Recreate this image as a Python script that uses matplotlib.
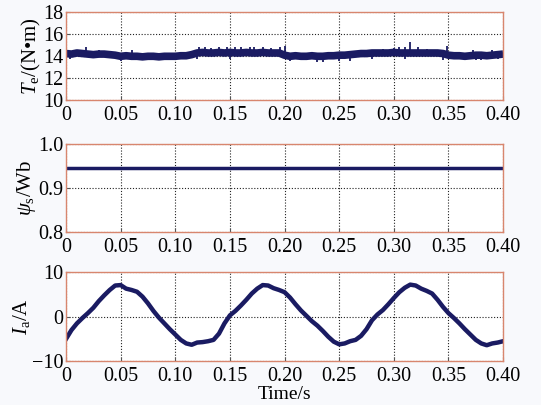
import numpy as np
import matplotlib
matplotlib.use("Agg")
import matplotlib.pyplot as plt

plt.rcParams['font.family'] = ['Liberation Serif', 'DejaVu Serif']
plt.rcParams['mathtext.fontset'] = 'custom'
plt.rcParams['mathtext.rm'] = 'Liberation Serif'
plt.rcParams['mathtext.it'] = 'Liberation Serif:italic'

# --- data ---
t_samples = np.round(np.arange(0, 81) * 0.005, 3)

te_values = [
    14.25, 14.2, 14.3, 14.25, 14.2, 14.15, 14.2, 14.2, 14.15, 14.1,
    14.0, 14.05, 14.0, 14.0, 13.95, 14.0, 14.0, 13.95, 14.0, 14.0, 14.0, 14.05, 14.05, 14.15,
    14.3, 14.35, 14.3, 14.3, 14.35, 14.3, 14.35, 14.3, 14.3, 14.35, 14.3, 14.3, 14.35, 14.3, 14.3, 14.3,
    14.1, 14.0, 14.05, 14.0, 14.0, 14.05, 14.0, 14.0, 14.05, 14.05, 14.1, 14.1, 14.15, 14.2,
    14.25, 14.25, 14.3, 14.3, 14.3, 14.3, 14.35, 14.3, 14.3, 14.3, 14.3, 14.3, 14.3, 14.3, 14.3, 14.25,
    14.1, 14.05, 14.05, 14.0, 14.05, 14.1, 14.1, 14.05, 14.1, 14.15, 14.2,
]

# torque spikes (time, peak value)
spike_t = [0.018, 0.030, 0.060, 0.122, 0.127, 0.133, 0.140, 0.147, 0.155, 0.160,
           0.168, 0.172, 0.180, 0.188, 0.196, 0.200, 0.290, 0.300, 0.305, 0.310,
           0.315, 0.322, 0.330, 0.349, 0.372, 0.390,
           0.004, 0.050, 0.065, 0.085, 0.120, 0.150, 0.205, 0.230, 0.235, 0.250,
           0.260, 0.280, 0.310, 0.345, 0.375, 0.380, 0.395]
spike_v = [14.8, 14.6, 14.6, 14.8, 14.8, 14.75, 14.8, 14.8, 14.8, 14.8,
           14.8, 14.8, 14.8, 14.75, 14.8, 14.9, 14.65, 14.75, 14.8, 14.85,
           15.3, 14.8, 14.7, 14.9, 14.55, 14.6,
           13.8, 13.6, 13.8, 13.8, 13.8, 13.8, 13.6, 13.5, 13.5, 13.6,
           13.6, 13.8, 13.8, 13.7, 13.7, 13.7, 13.8]

psi_t = [0.0, 0.40]
psi_v = [0.945, 0.945]

ia_values = [
    -5.0, -3.0, -1.5, -0.3, 0.8, 2.0, 3.5, 4.8, 6.0, 7.0,
    7.1, 6.3, 6.0, 5.6, 4.5, 3.0, 1.3, -0.2, -1.5, -2.8,
    -4.0, -5.2, -6.0, -6.3, -5.8, -5.7, -5.5, -5.2, -3.8, -1.5,
    0.3, 1.3, 2.5, 3.8, 5.2, 6.3, 7.1, 7.0, 6.4, 6.0,
    5.5, 4.3, 2.8, 1.4, 0.2, -1.0, -2.0, -3.2, -4.5, -5.6,
    -6.2, -6.0, -5.5, -5.2, -4.3, -2.8, -0.8, 0.5, 1.5, 2.8,
    4.2, 5.5, 6.5, 7.2, 7.0, 6.3, 5.8, 5.2, 3.8, 2.2,
    0.8, -0.3, -1.5, -2.8, -4.0, -5.2, -6.0, -6.4, -6.0, -5.8,
    -5.5,
]

x_ticks = [0, 0.05, 0.10, 0.15, 0.20, 0.25, 0.30, 0.35, 0.40]
x_ticklabels = ['0', '0.05', '0.10', '0.15', '0.20', '0.25', '0.30', '0.35', '0.40']

LINE = '#1a1b62'
FRAME = '#d8866e'

fig = plt.figure(figsize=(5.41, 4.05), dpi=100, facecolor='#f8f9fc')
ax1 = fig.add_axes([0.122, 0.752, 0.808, 0.218])
ax2 = fig.add_axes([0.122, 0.427, 0.808, 0.217])
ax3 = fig.add_axes([0.122, 0.108, 0.808, 0.220])


def style(ax, yticks, ylabels, ylim):
    ax.set_xlim(0, 0.40)
    ax.set_ylim(*ylim)
    ax.set_xticks(x_ticks)
    ax.set_xticklabels(x_ticklabels)
    ax.set_yticks(yticks)
    ax.set_yticklabels(ylabels)
    ax.grid(True, color='#222222', linestyle=(0, (1, 1.6)), linewidth=0.8)
    ax.tick_params(direction='in', length=3, labelsize=14.5, color='#555555')
    ax.tick_params(axis='x', pad=4)
    ax.tick_params(axis='y', pad=2)
    for s in ax.spines.values():
        s.set_color(FRAME)
        s.set_linewidth(1.0)
    ax.set_axisbelow(True)


# --- Te ---
ax1.plot(t_samples, te_values, color=LINE, lw=5.5, solid_capstyle='butt')
ax1.vlines(spike_t, [14.2] * len(spike_t), spike_v, color=LINE, lw=1.3)
style(ax1, [10, 12, 14, 16, 18], ['10', '12', '14', '16', '18'], (10, 18))
ax1.set_ylabel(r'$T_\mathrm{e}$/(N•m)', fontsize=15, labelpad=0)

# --- psi_s ---
ax2.plot(psi_t, psi_v, color=LINE, lw=2.5)
style(ax2, [0.8, 0.9, 1.0], ['0.8', '0.9', '1.0'], (0.8, 1.0))
ax2.set_ylabel(r'$\psi_\mathrm{s}$/Wb', fontsize=15, labelpad=0)

# --- Ia ---
ax3.plot(t_samples, ia_values, color=LINE, lw=3.2)
style(ax3, [-10, 0, 10], ['\u221210', '0', '10'], (-10, 10))
ax3.set_ylabel(r'$I_\mathrm{a}$/A', fontsize=15, labelpad=0)
ax3.set_xlabel('Time/s', fontsize=14, labelpad=0)

fig.savefig('out.png', dpi=100, facecolor=fig.get_facecolor())
